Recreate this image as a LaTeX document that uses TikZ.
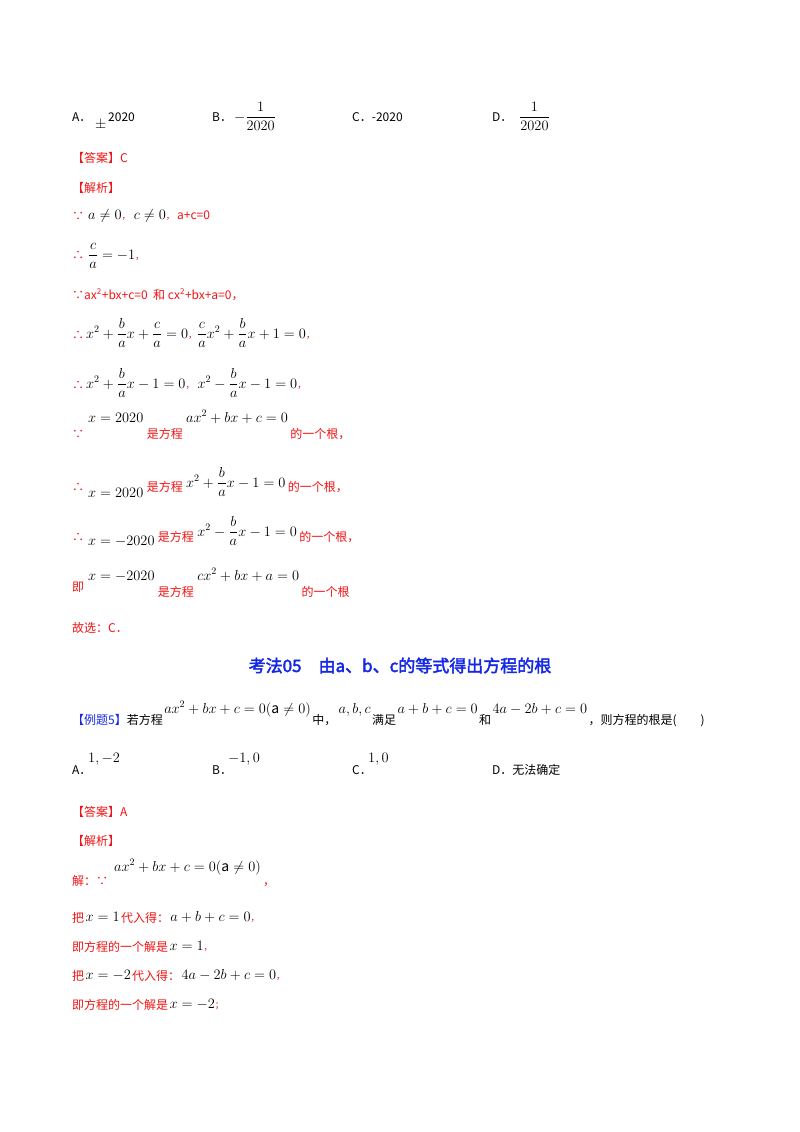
\documentclass[tikz,border=0pt]{standalone}
\usepackage{amsmath}
\usepackage{fontspec}
\setmainfont{Noto Sans CJK SC}
\newfontfamily\cjkb[FakeBold=2.5]{Noto Sans CJK SC}
\definecolor{ansred}{RGB}{240,20,20}
\definecolor{titleblue}{RGB}{20,40,230}
\begin{document}
\begin{tikzpicture}[x=1pt,y=-1pt,
  t/.style={anchor=base west,inner sep=0pt,font=\fontsize{12}{14}\selectfont},
  r/.style={t,text=ansred},
  m/.style={anchor=base west,inner sep=0pt,font=\fontsize{14}{16}\selectfont}]
\useasboundingbox (0,0) rectangle (800,1132);
\fill[white] (0,0) rectangle (800,1132);
% options
\node[t] (oa) at (72,121) {A．};
\node[m] (oa2) at (95,128) {$\pm$};
\node[t] (oa3) at (108,121) {2020};
\node[t] (ob) at (212,121) {B．};
\node[m] (ob2) at (234,121) {$-\dfrac{1}{2020}$};
\node[t] (oc) at (352,121) {C．-2020};
\node[t] (od) at (492,121) {D．};
\node[m] (od2) at (519,121) {$\dfrac{1}{2020}$};
\node[r] (ans) at (72,162) {【答案】C};
\node[r] (jx) at (72,192) {【解析】};
\node[r] (l1) at (72,220) {∵};
\node[m] (l1b) at (88,219) {$a\neq0$\textcolor{ansred}{\small，}\ $c\neq0$\textcolor{ansred}{\small，}\,\textcolor{ansred}{\fontsize{12}{14}\selectfont a+c=0}};
\node[r] (l2) at (72,259) {∴};
\node[m] (l2b) at (88,259) {$\dfrac{c}{a}=-1$\textcolor{ansred}{\small，}};
\node[r] (l3) at (72,299) {∵ax\textsuperscript{2}+bx+c=0\ \ 和 cx\textsuperscript{2}+bx+a=0，};
\node[r] (l4) at (72,339) {∴};
\node[m] (l4b) at (86,338) {$x^2+\dfrac{b}{a}x+\dfrac{c}{a}=0$\textcolor{ansred}{\small，}$\dfrac{c}{a}x^2+\dfrac{b}{a}x+1=0$\textcolor{ansred}{\small，}};
\node[r] (l5) at (72,389) {∴};
\node[m] (l5b) at (86,388) {$x^2+\dfrac{b}{a}x-1=0$\textcolor{ansred}{\small，}\ $x^2-\dfrac{b}{a}x-1=0$\textcolor{ansred}{\small，}};
\node[r] (l6) at (72,438) {∵};
\node[m] (l6b) at (88,422) {$x=2020$};
\node[r] (l6c) at ([xshift=3pt]l6b.east |- l6.base) {是方程};
\node[m] (l6d) at ([xshift=3pt]l6c.east |- l6b.base) {$ax^2+bx+c=0$};
\node[r] (l6e) at ([xshift=2pt]l6d.east |- l6.base) {的一个根，};
\node[r] (l7) at (72,491) {∴};
\node[m] (l7b) at (88,497) {$x=2020$};
\node[r] (l7c) at ([xshift=3pt]l7b.east |- l7.base) {是方程};
\node[m] (l7d) at ([xshift=3pt]l7c.east |- 0,487) {$x^2+\dfrac{b}{a}x-1=0$};
\node[r] (l7e) at ([xshift=2pt]l7d.east |- l7.base) {的一个根，};
\node[r] (l8) at (72,541) {∴};
\node[m] (l8b) at (88,545) {$x=-2020$};
\node[r] (l8c) at ([xshift=3pt]l8b.east |- l8.base) {是方程};
\node[m] (l8d) at ([xshift=3pt]l8c.east |- 0,536) {$x^2-\dfrac{b}{a}x-1=0$};
\node[r] (l8e) at ([xshift=2pt]l8d.east |- l8.base) {的一个根，};
\node[r] (l9) at (72,591) {即};
\node[m] (l9b) at (88,580) {$x=-2020$};
\node[r] (l9c) at ([xshift=3pt]l9b.east |- 0,596) {是方程};
\node[m] (l9d) at ([xshift=3pt]l9c.east |- l9b.base) {$cx^2+bx+a=0$};
\node[r] (l9e) at ([xshift=2pt]l9d.east |- l9c.base) {的一个根};
\node[r] (l10) at (72,632) {故选：C．};
% title
\node[anchor=base,inner sep=0pt,text=titleblue,font=\fontsize{17}{20}\selectfont\cjkb] (title) at (400,672) {考法05\quad 由a、b、c的等式得出方程的根};
% example
\node[t] (ex) at (72,724) {\textcolor{titleblue}{【例题5】}若方程};
\node[m] (ex2) at ([xshift=1pt]ex.east |- 0,713) {$ax^2+bx+c=0(\mathrm{a}\neq0)$};
\node[t] (ex3) at ([xshift=1pt]ex2.east |- ex.base) {中，};
\node[m] (ex4) at ([xshift=2pt]ex3.east |- ex2.base) {$a,b,c$};
\node[t] (ex5) at ([xshift=1pt]ex4.east |- ex.base) {满足};
\node[m] (ex6) at ([xshift=1pt]ex5.east |- ex2.base) {$a+b+c=0$};
\node[t] (ex7) at ([xshift=1pt]ex6.east |- ex.base) {和};
\node[m] (ex8) at ([xshift=1pt]ex7.east |- ex2.base) {$4a-2b+c=0$};
\node[t] (ex9) at ([xshift=1pt]ex8.east |- ex.base) {，则方程的根是(\qquad)};
\node[t] (pa) at (72,774) {A．};
\node[m] (pa2) at (88,762) {$1,-2$};
\node[t] (pb) at (212,774) {B．};
\node[m] (pb2) at (228,762) {$-1,0$};
\node[t] (pc) at (352,774) {C．};
\node[m] (pc2) at (368,762) {$1,0$};
\node[t] (pd) at (492,774) {D．无法确定};
\node[r] (ans2) at (72,816) {【答案】A};
\node[r] (jx2) at (72,845) {【解析】};
\node[r] (s1) at (72,885) {解：∵};
\node[m] (s1b) at (114,871) {$ax^2+bx+c=0(\mathrm{a}\neq0)$};
\node[r] (s1c) at ([xshift=2pt]s1b.east |- s1.base) {，};
\node[r] (s2) at (72,922) {把};
\node[m] (s2b) at ([xshift=1pt]s2.east |- 0,921) {$x=1$};
\node[r] (s2c) at ([xshift=1pt]s2b.east |- s2.base) {代入得：};
\node[m] (s2d) at ([xshift=1pt]s2c.east |- s2b.base) {$a+b+c=0$\textcolor{ansred}{\small，}};
\node[r] (s3) at (72,951) {即方程的一个解是};
\node[m] (s3b) at ([xshift=1pt]s3.east |- 0,950) {$x=1$\textcolor{ansred}{\small，}};
\node[r] (s4) at (72,980) {把};
\node[m] (s4b) at ([xshift=1pt]s4.east |- 0,979) {$x=-2$};
\node[r] (s4c) at ([xshift=1pt]s4b.east |- s4.base) {代入得：};
\node[m] (s4d) at ([xshift=1pt]s4c.east |- s4b.base) {$4a-2b+c=0$\textcolor{ansred}{\small，}};
\node[r] (s5) at (72,1009) {即方程的一个解是};
\node[m] (s5b) at ([xshift=1pt]s5.east |- 0,1008) {$x=-2$\textcolor{ansred}{\small；}};
\end{tikzpicture}
\end{document}
